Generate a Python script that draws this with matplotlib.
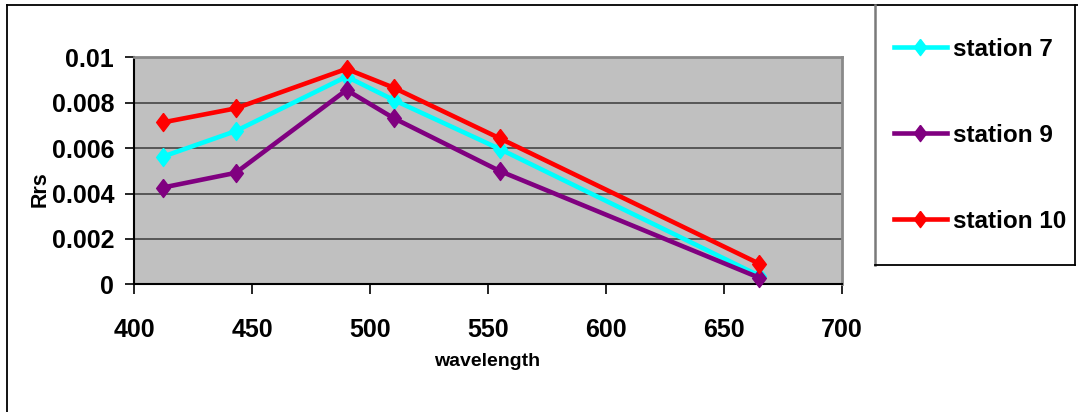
import matplotlib
matplotlib.use("Agg")
import matplotlib.pyplot as plt
from matplotlib.patches import Rectangle
from matplotlib.lines import Line2D

# Remote-sensing reflectance spectra per station
wavelength = [412, 443, 490, 510, 555, 665]
station_7 = [0.00562, 0.00675, 0.00915, 0.00812, 0.00596, 0.00038]
station_9 = [0.00426, 0.00491, 0.00856, 0.00732, 0.00499, 0.00029]
station_10 = [0.00713, 0.00775, 0.00949, 0.00866, 0.00643, 0.00091]

series_labels = ["station 7", "station 9", "station 10"]
series_colors = ["#00FFFF", "#800080", "#FF0000"]

x_ticks = [400, 450, 500, 550, 600, 650, 700]
y_ticks = [0, 0.002, 0.004, 0.006, 0.008, 0.01]
y_tick_labels = ["0", "0.002", "0.004", "0.006", "0.008", "0.01"]

W, H = 1078, 412
plt.rcParams["font.family"] = ["Liberation Sans", "DejaVu Sans"]

fig = plt.figure(figsize=(W / 100, H / 100), dpi=100)
fig.patch.set_facecolor("white")

def fx(px):
    return px / W

def fy(py):
    return 1 - py / H

# outer chart frame
fig.add_artist(Line2D([fx(6.5), fx(6.5)], [fy(4.7), fy(H + 5)], color="black", lw=1.3))
fig.add_artist(Line2D([fx(6.5), fx(W + 5)], [fy(4.7), fy(4.7)], color="black", lw=1.3))

left, right, top, bottom = 134.3, 841.7, 57.3, 284.3
ax = fig.add_axes([fx(left), fy(bottom), fx(right - left), (bottom - top) / H])
ax.set_facecolor("#C0C0C0")

# slightly narrow diamond marker
diamond = [(0, 1), (0.76, 0), (0, -1), (-0.76, 0), (0, 1)]

for vals, lab, col in zip([station_7, station_9, station_10], series_labels, series_colors):
    ax.plot(wavelength, vals, color=col, lw=3.3, marker=diamond, markersize=13,
            markeredgecolor=col, label=lab, clip_on=False, zorder=3)

ax.set_xlim(400, 700)
ax.set_ylim(0, 0.01)
ax.set_xticks(x_ticks)
ax.set_xticklabels([str(t) for t in x_ticks])
ax.set_yticks(y_ticks)
ax.set_yticklabels(y_tick_labels)
ax.yaxis.grid(True, color="#3A3A3A", lw=1.1)
ax.set_axisbelow(True)

for lab in ax.get_xticklabels() + ax.get_yticklabels():
    lab.set_fontweight("bold")
    lab.set_fontsize(18)
ax.tick_params(axis="x", direction="out", length=7.5, width=1.2, pad=16.5, color="black")
ax.tick_params(axis="y", direction="out", length=6.5, width=1.2, pad=8, color="black")

ax.spines["left"].set_color("black")
ax.spines["bottom"].set_color("black")
ax.spines["left"].set_linewidth(1.5)
ax.spines["bottom"].set_linewidth(1.5)
ax.spines["top"].set_color("#8A8A8A")
ax.spines["right"].set_color("#8A8A8A")
ax.spines["top"].set_linewidth(2)
ax.spines["right"].set_linewidth(2)

fig.text(fx(40), fy(189), "Rrs", rotation=90, ha="center", va="center",
         fontsize=15.5, fontweight="bold")
fig.text(fx(487.5), fy(361), "wavelength", ha="center", va="center",
         fontsize=14, fontweight="bold")

# legend box
lg_l, lg_r, lg_t, lg_b = 875, 1075, 4.7, 265
fig.add_artist(Rectangle((fx(lg_l), fy(lg_b)), fx(lg_r - lg_l), (lg_b - lg_t) / H,
                         facecolor="white", edgecolor="none", zorder=1))
fig.add_artist(Line2D([fx(lg_l), fx(lg_l)], [fy(lg_t), fy(lg_b)], color="#7A7A7A", lw=1.8))
fig.add_artist(Line2D([fx(lg_l), fx(lg_r)], [fy(lg_b), fy(lg_b)], color="black", lw=1.3))
fig.add_artist(Line2D([fx(lg_r), fx(lg_r)], [fy(lg_t), fy(lg_b)], color="black", lw=1.3))

handles, labels = ax.get_legend_handles_labels()
leg = fig.legend(handles, labels, loc="upper left",
                 bbox_to_anchor=(fx(894), fy(37.5)), frameon=False,
                 prop={"weight": "bold", "size": 17.5},
                 handlelength=2.18, handletextpad=0.25, labelspacing=2.6,
                 borderpad=0, borderaxespad=0, markerscale=0.9)

fig.savefig("out.png", dpi=100, facecolor="white")
